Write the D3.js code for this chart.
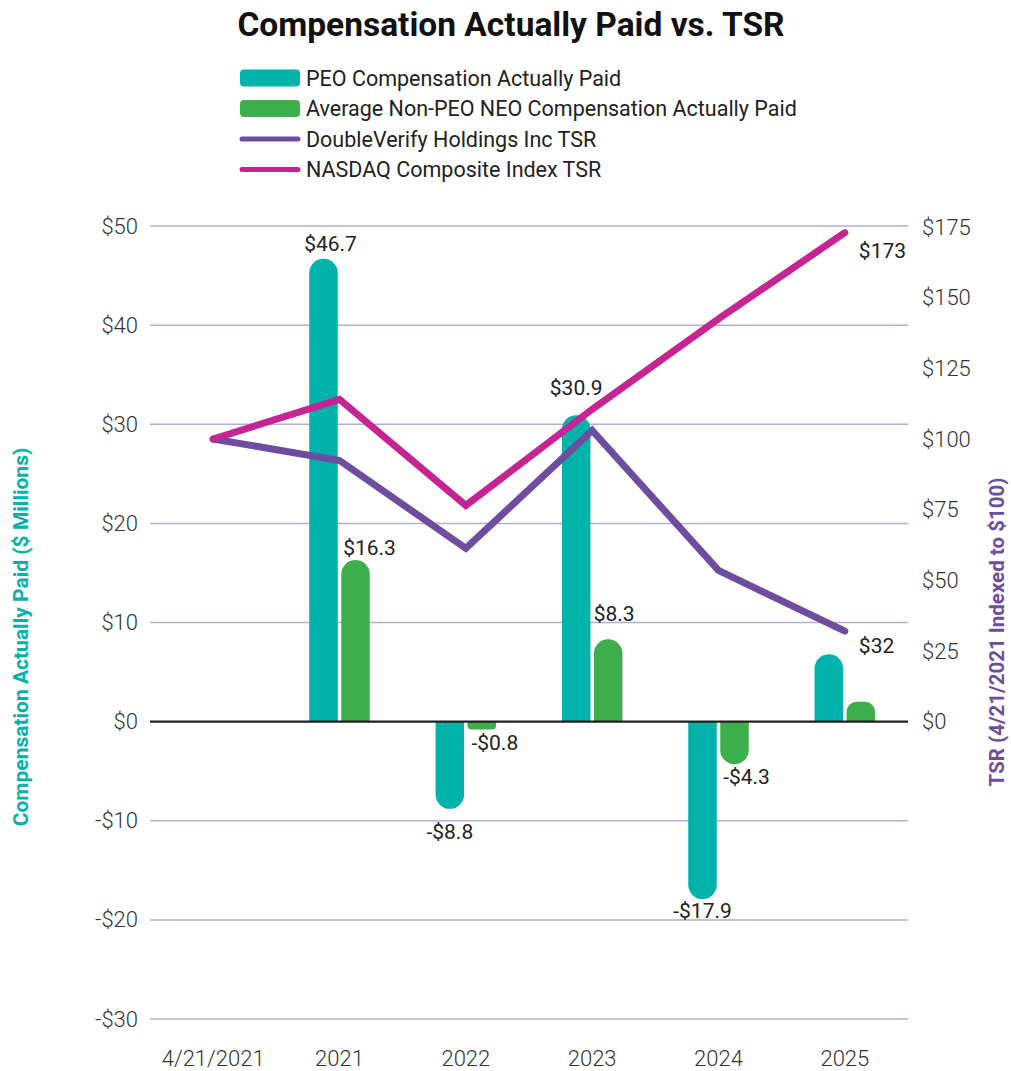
<!DOCTYPE html>
<html>
<head>
<meta charset="utf-8">
<script src="https://cdn.jsdelivr.net/npm/d3@7"></script>
<style>
  body { margin: 0; background: #fff; }
  svg { font-family: Roboto, "Noto Sans", sans-serif; }
</style>
</head>
<body>
<svg id="chart" width="1011" height="1071"></svg>
<script>
// ---- data ----
const categories = ["4/21/2021", "2021", "2022", "2023", "2024", "2025"];
const peoCAP = [null, 46.7, -8.8, 30.9, -17.9, 6.8];
const neoCAP = [null, 16.3, -0.8, 8.3, -4.3, 2.0];
const peoLabels = [null, "$46.7", "-$8.8", "$30.9", "-$17.9", null];
const neoLabels = [null, "$16.3", "-$0.8", "$8.3", "-$4.3", null];
const dvTSR = [100, 92.4, 61.3, 103, 53.5, 32];
const nasdaqTSR = [100, 114, 76.5, 110.5, 142.5, 173];
const leftTicks = [-30, -20, -10, 0, 10, 20, 30, 40, 50];
const rightTicks = [0, 25, 50, 75, 100, 125, 150, 175];
const legendItems = [
  { name: "PEO Compensation Actually Paid", type: "bar", color: "#00B2A9" },
  { name: "Average Non-PEO NEO Compensation Actually Paid", type: "bar", color: "#3DAE4B" },
  { name: "DoubleVerify Holdings Inc TSR", type: "line", color: "#6E4C9F" },
  { name: "NASDAQ Composite Index TSR", type: "line", color: "#C42592" }
];

// label placement nudges (layout only): [dx, dy from bar end]
const labelNudge = {
  "$46.7": [7, -8], "$16.3": [14, -5], "-$8.8": [0, 30], "-$0.8": [13, 20],
  "$30.9": [0, -20], "$8.3": [6, -18], "-$17.9": [0, 19], "-$4.3": [12, 20]
};

const svg = d3.select("#chart");
const plotL = 150, plotR = 908;

const x = d3.scaleBand().domain(categories).range([plotL, plotR]);
const yL = d3.scaleLinear().domain([-30, 50]).range([1019, 226]);
const yR = d3.scaleLinear().domain([0, 175]).range([yL(0), 227]);
const cx = c => x(c) + x.bandwidth() / 2;

// title
svg.append("text").attr("x", 511).attr("y", 36).attr("text-anchor", "middle")
  .attr("font-size", 33.5).attr("font-weight", 700).attr("fill", "#111")
  .text("Compensation Actually Paid vs. TSR");

// legend
const lg = svg.append("g");
legendItems.forEach((d, i) => {
  const yy = 78 + i * 30.5;
  if (d.type === "bar") {
    lg.append("rect").attr("x", 240).attr("y", yy - 8.5).attr("width", 60).attr("height", 17)
      .attr("rx", 4).attr("fill", d.color);
  } else {
    lg.append("line").attr("x1", 242).attr("x2", 298).attr("y1", yy).attr("y2", yy)
      .attr("stroke", d.color).attr("stroke-width", 5).attr("stroke-linecap", "round");
  }
  lg.append("text").attr("x", 306).attr("y", yy + 7.5).attr("font-size", 21.5)
    .attr("fill", "#222").text(d.name);
});

// gridlines (left axis)
svg.append("g").selectAll("line").data(leftTicks.filter(t => t !== 0)).join("line")
  .attr("x1", plotL).attr("x2", plotR)
  .attr("y1", d => yL(d)).attr("y2", d => yL(d))
  .attr("stroke", "#B9AAD8").attr("stroke-width", 1.5);

const tickStyle = g => {
  g.select(".domain").remove();
  g.selectAll("text").attr("font-size", 22).attr("font-weight", 300).attr("fill", "#333")
    .attr("font-family", "Roboto, sans-serif");
};

// left axis labels
const leftAxis = d3.axisLeft(yL).tickValues(leftTicks).tickSize(0).tickPadding(0)
  .tickFormat(d => (d < 0 ? "-$" : "$") + Math.abs(d));
svg.append("g").attr("transform", "translate(138,0)").call(leftAxis).call(tickStyle);

// right axis labels
const rightAxis = d3.axisRight(yR).tickValues(rightTicks).tickSize(0).tickPadding(0)
  .tickFormat(d => "$" + d);
svg.append("g").attr("transform", "translate(922,0)").call(rightAxis).call(tickStyle);

// x axis labels
const xAxis = d3.axisBottom(x).tickSize(0).tickPadding(0);
svg.append("g").attr("transform", "translate(0,1050)").call(xAxis).call(tickStyle);

// axis titles
svg.append("text")
  .attr("transform", `translate(28,637) rotate(-90)`)
  .attr("text-anchor", "middle").attr("font-size", 21).attr("font-weight", 700)
  .attr("fill", "#00B2A9").text("Compensation Actually Paid ($ Millions)");
svg.append("text")
  .attr("transform", `translate(1004,632) rotate(-90)`)
  .attr("text-anchor", "middle").attr("font-size", 20.5).attr("font-weight", 700)
  .attr("fill", "#6E4C9F").text("TSR (4/21/2021 Indexed to $100)");

// bars
const barW = 28.5, gap = 3.5;
function barPath(x0, w, v) {
  const y0 = yL(0), y1 = yL(v);
  const h = Math.abs(y1 - y0);
  const r = Math.min(w / 2, h / 2);
  const x1 = x0 + w;
  if (v >= 0) {
    return `M${x0},${y0}V${y1 + r}A${r},${r} 0 0 1 ${x0 + r},${y1}H${x1 - r}A${r},${r} 0 0 1 ${x1},${y1 + r}V${y0}Z`;
  } else {
    return `M${x0},${y0}V${y1 - r}A${r},${r} 0 0 0 ${x0 + r},${y1}H${x1 - r}A${r},${r} 0 0 0 ${x1},${y1 - r}V${y0}Z`;
  }
}
const barData = [];
categories.forEach((c, i) => {
  if (peoCAP[i] !== null) barData.push({ c, v: peoCAP[i], x0: cx(c) - gap / 2 - barW, color: "#00B2A9", label: peoLabels[i] });
  if (neoCAP[i] !== null) barData.push({ c, v: neoCAP[i], x0: cx(c) + gap / 2, color: "#3DAE4B", label: neoLabels[i] });
});
svg.append("g").selectAll("path").data(barData).join("path")
  .attr("d", d => barPath(d.x0, barW, d.v)).attr("fill", d => d.color);

// zero line
svg.append("line").attr("x1", plotL).attr("x2", plotR)
  .attr("y1", yL(0)).attr("y2", yL(0)).attr("stroke", "#231F20").attr("stroke-width", 2.2);

// bar labels
svg.append("g").selectAll("text").data(barData.filter(d => d.label)).join("text")
  .attr("x", d => d.x0 + barW / 2 + (labelNudge[d.label] || [0, 0])[0])
  .attr("y", d => yL(d.v) + (labelNudge[d.label] || [0, d.v >= 0 ? -10 : 20])[1])
  .attr("text-anchor", "middle").attr("font-size", 21).attr("fill", "#222")
  .text(d => d.label);

// TSR lines
const line = d3.line().x((d, i) => cx(categories[i])).y(d => yR(d));
[[dvTSR, "#6E4C9F"], [nasdaqTSR, "#C42592"]].forEach(([vals, col]) => {
  svg.append("path").attr("d", line(vals)).attr("fill", "none").attr("stroke", col)
    .attr("stroke-width", 7).attr("stroke-linejoin", "miter").attr("stroke-linecap", "round");
});

// TSR end labels
const last = categories.length - 1;
[[dvTSR, "$32", 22], [nasdaqTSR, "$173", 25]].forEach(([vals, lab, dy]) => {
  svg.append("text").attr("x", cx(categories[last]) + 14).attr("y", yR(vals[last]) + dy)
    .attr("font-size", 21).attr("fill", "#222").text(lab);
});
</script>
</body>
</html>
